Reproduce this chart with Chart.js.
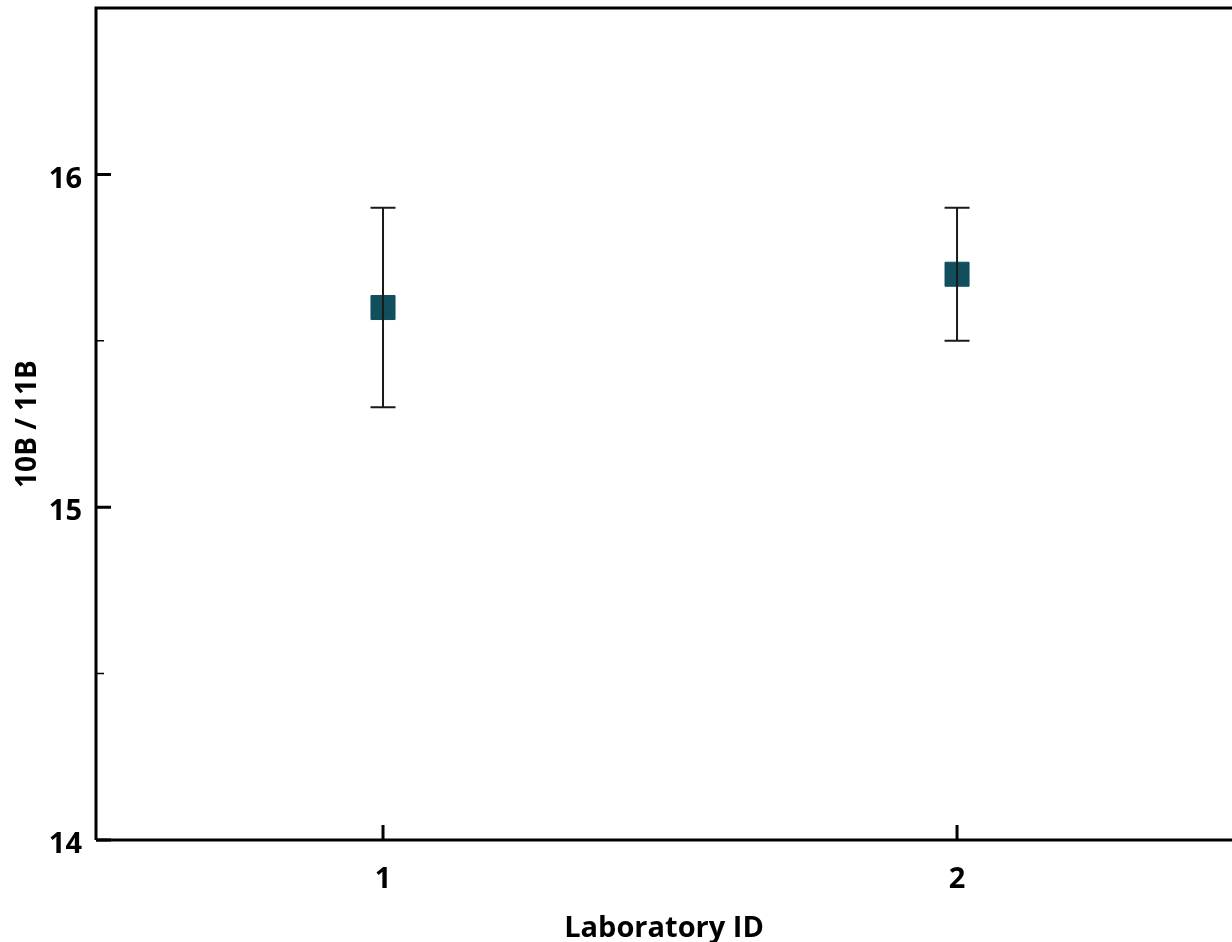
<!DOCTYPE html>
<html>
<head>
<meta charset="utf-8">
<script src="https://cdn.jsdelivr.net/npm/chart.js@4.4.0/dist/chart.umd.min.js"></script>
<style>
  html, body { margin: 0; padding: 0; background: #fff; overflow: hidden; }
  #wrap { width: 1232px; height: 942px; }
</style>
</head>
<body>
<div id="wrap"><canvas id="grafico"></canvas></div>
<script>
// dati
const labIds = [1, 2];
const ratios = [15.6, 15.7];
const errLow = [15.3, 15.5];
const errHigh = [15.9, 15.9];
const yMajorTicks = [14, 15, 16];
const yMinorTicks = [14.5, 15.5, 16.5];

const FONT = '"Open Sans", "Noto Sans", sans-serif';

// disegna barre d'errore, assi e tacche interne
const disegnaExtra = {
    id: 'disegnaExtra',
    afterDatasetsDraw(chart) {
        const ctx = chart.ctx;
        const xs = chart.scales.x;
        const ys = chart.scales.y;

        ctx.save();
        ctx.strokeStyle = '#1a1a1a';
        ctx.lineWidth = 2;
        labIds.forEach((id, i) => {
            const x = xs.getPixelForValue(id);
            const y1 = ys.getPixelForValue(errLow[i]);
            const y2 = ys.getPixelForValue(errHigh[i]);
            ctx.beginPath();
            ctx.moveTo(x, y1); ctx.lineTo(x, y2);
            ctx.moveTo(x - 12.5, y1); ctx.lineTo(x + 12.5, y1);
            ctx.moveTo(x - 12.5, y2); ctx.lineTo(x + 12.5, y2);
            ctx.stroke();
        });
        ctx.restore();
    },
    beforeDatasetsDraw(chart) {
        const ctx = chart.ctx;
        const xs = chart.scales.x;
        const ys = chart.scales.y;
        const area = chart.chartArea;

        ctx.save();
        ctx.strokeStyle = '#000';
        ctx.lineWidth = 3;
        ctx.beginPath();
        ctx.moveTo(area.left, area.bottom);
        ctx.lineTo(area.left, area.top);
        ctx.lineTo(chart.width, area.top);
        ctx.moveTo(area.left, area.bottom);
        ctx.lineTo(chart.width, area.bottom);
        ctx.stroke();

        ctx.beginPath();
        yMajorTicks.forEach(v => {
            const y = ys.getPixelForValue(v);
            ctx.moveTo(area.left, y); ctx.lineTo(area.left + 15, y);
        });
        labIds.forEach(v => {
            const x = xs.getPixelForValue(v);
            ctx.moveTo(x, area.bottom); ctx.lineTo(x, area.bottom - 15);
        });
        ctx.stroke();

        ctx.lineWidth = 1.5;
        ctx.beginPath();
        yMinorTicks.forEach(v => {
            const y = ys.getPixelForValue(v);
            ctx.moveTo(area.left, y); ctx.lineTo(area.left + 8, y);
        });
        ctx.stroke();
        ctx.restore();
    }
};

const ctx = document.getElementById('grafico').getContext('2d');
const myChart = new Chart(ctx, {
    type: 'scatter',
    data: {
        datasets: [{
            label: '10B / 11B',
            data: labIds.map((id, i) => ({ x: id, y: ratios[i] })),
            pointStyle: 'rect',
            pointRadius: 17,
            pointHoverRadius: 17,
            backgroundColor: '#114f5f',
            borderColor: '#114f5f',
            borderWidth: 1
        }]
    },
    options: {
        responsive: true,
        maintainAspectRatio: false,
        animation: false,
        layout: { autoPadding: false, padding: { top: 8, right: 0, left: 0, bottom: 0 } },
        plugins: {
            legend: { display: false },
            tooltip: { enabled: false }
        },
        scales: {
            x: {
                type: 'linear',
                min: 0.5,
                max: 2.479,
                afterBuildTicks(scale) {
                    scale.ticks = labIds.map(v => ({ value: v }));
                },
                afterFit(scale) {
                    scale.height = 102;
                    scale.paddingLeft = 0;
                    scale.paddingRight = 0;
                },
                grid: { display: false, drawTicks: false },
                border: { display: false },
                ticks: {
                    padding: 22,
                    color: '#000',
                    font: { family: FONT, size: 29, weight: 'bold' },
                    callback: v => String(v)
                },
                title: {
                    display: true,
                    text: 'Laboratory ID',
                    color: '#000',
                    font: { family: FONT, size: 29, weight: 'bold' },
                    padding: { top: 0, bottom: -4 }
                }
            },
            y: {
                min: 14,
                max: 16.5,
                afterBuildTicks(scale) {
                    scale.ticks = yMajorTicks.map(v => ({ value: v }));
                },
                afterFit(scale) {
                    scale.width = 96;
                    scale.paddingTop = 0;
                    scale.paddingBottom = 0;
                },
                grid: { display: false, drawTicks: false },
                border: { display: false },
                ticks: {
                    padding: 14,
                    labelOffset: 5,
                    color: '#000',
                    font: { family: FONT, size: 29, weight: 'bold' },
                    callback: v => String(v)
                },
                title: {
                    display: true,
                    text: '10B / 11B',
                    color: '#000',
                    font: { family: FONT, size: 28, weight: 'bold' },
                    padding: { top: 11, bottom: 0 }
                }
            }
        }
    },
    plugins: [disegnaExtra]
});
</script>
</body>
</html>
